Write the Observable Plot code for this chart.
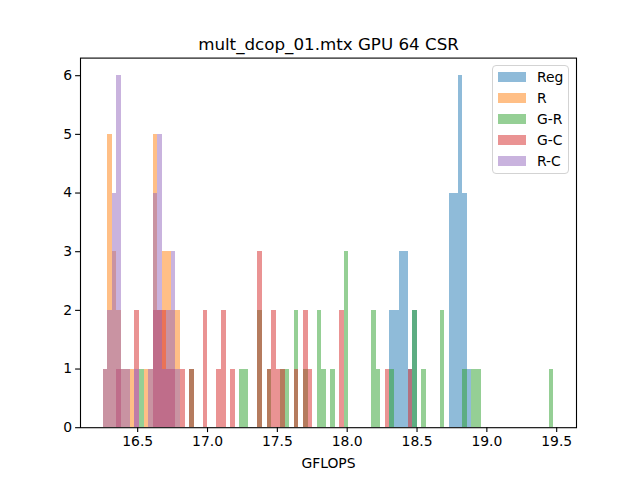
<!DOCTYPE html>
<html>
<head>
<meta charset="utf-8">
<script src="https://cdn.jsdelivr.net/npm/d3@7"></script>
<script src="https://cdn.jsdelivr.net/npm/@observablehq/plot@0.6"></script>
<style>
  body { margin: 0; background: #fff; }
  #wrap { position: relative; width: 640px; height: 480px; font-family: "DejaVu Sans", sans-serif; }
  .legend { position: absolute; left: 492px; top: 65px; width: 77px; height: 109px; box-sizing: border-box;
            border: 1px solid #d3d3d3; border-radius: 4px; background: rgba(255,255,255,0.8); }
  .row { position: absolute; left: 0; height: 20px; display: flex; align-items: center; }
  .sw { width: 28px; height: 10px; margin-left: 5px; margin-right: 11px; }
  .lab { font-size: 13.9px; color: #000; }
</style>
</head>
<body>
<div id="wrap"></div>
<script>
// ---- data ----
const title = "mult_dcop_01.mtx GPU 64 CSR";
const xLabel = "GFLOPS";
const seriesNames = ["Reg", "R", "G-R", "G-C", "R-C"];
const seriesColors = ["#1f77b4", "#ff7f0e", "#2ca02c", "#d62728", "#9467bd"];

// common histogram bin grid (GFLOPS)
const binStart = 16.252;
const binWidth = 0.03261;
const binCount = 99;

// bin index -> count, per series
const regBins   = [63, 64, 65, 66, 67, 68, 76, 77, 78, 79, 80];
const regCounts = [2, 2, 3, 3, 1, 2, 4, 4, 6, 4, 1];

const rBins   = [0, 1, 2, 3, 4, 5, 6, 9, 10, 11, 12, 13, 14, 15, 16];
const rCounts = [1, 5, 3, 2, 1, 1, 1, 1, 1, 5, 2, 3, 3, 2, 2];

const grBins   = [8, 19, 30, 31, 34, 36, 39, 40, 42, 44, 47, 48, 50, 53, 59, 60, 63, 68, 70, 74, 79, 81, 82, 98];
const grCounts = [1, 1, 1, 1, 2, 1, 1, 1, 2, 1, 2, 1, 1, 3, 2, 1, 1, 2, 1, 2, 1, 1, 1, 1];

const gcBins   = [3, 7, 11, 12, 13, 14, 15, 17, 19, 22, 25, 26, 28, 34, 36, 37, 38, 39, 42, 44, 45, 52, 62, 67];
const gcCounts = [1, 2, 2, 2, 2, 1, 1, 1, 1, 2, 1, 2, 1, 3, 1, 2, 1, 1, 1, 2, 1, 2, 1, 1];

const rcBins   = [0, 1, 2, 3, 4, 5, 7, 10, 11, 12, 13, 14, 15, 16];
const rcCounts = [1, 2, 4, 6, 1, 1, 1, 1, 4, 5, 1, 2, 3, 1];

const xTicks = [16.5, 17.0, 17.5, 18.0, 18.5, 19.0, 19.5];
const yTicks = [0, 1, 2, 3, 4, 5, 6];

// ---- build tables ----
const binSets = [[regBins, regCounts], [rBins, rCounts], [grBins, grCounts], [gcBins, gcCounts], [rcBins, rcCounts]];
const tables = binSets.map(([bins, counts], k) => bins.map((b, j) => ({
  series: seriesNames[k],
  x1: binStart + b * binWidth,
  x2: binStart + (b + 1) * binWidth,
  count: counts[j]
})));

const binEnd = binStart + binCount * binWidth;
const span = binEnd - binStart;
const xDomain = [binStart - 0.05 * span, binEnd + 0.05 * span];
const maxCount = d3.max(tables.flat(), d => d.count);

const chart = Plot.plot({
  width: 640,
  height: 480,
  marginLeft: 80,
  marginRight: 64,
  marginTop: 57.6,
  marginBottom: 52.8,
  style: { fontFamily: "DejaVu Sans, sans-serif", fontSize: "13.9px", color: "#000", background: "#fff" },
  x: { domain: xDomain },
  y: { domain: [0, maxCount * 1.05] },
  marks: [
    ...tables.map((t, k) => Plot.rect(t, {
      x1: "x1", x2: "x2", y1: () => 0, y2: "count",
      fill: seriesColors[k], fillOpacity: 0.5, shapeRendering: "crispEdges"
    })),
    Plot.frame({ stroke: "#000", strokeWidth: 1.1 }),
    Plot.axisX({ ticks: xTicks, tickFormat: d3.format(".1f"), tickSize: 4.9, tickPadding: 3.5, strokeWidth: 1.1, label: null }),
    Plot.axisY({ ticks: yTicks, tickFormat: d3.format("d"), tickSize: 4.9, tickPadding: 3.5, strokeWidth: 1.1, label: null }),
    Plot.text([title], { text: d => d, frameAnchor: "top", dy: -8, lineAnchor: "bottom", fontSize: 16.7 }),
    Plot.text([xLabel], { text: d => d, frameAnchor: "bottom", dy: 36, lineAnchor: "middle", fontSize: 13.9 })
  ]
});

const wrap = document.getElementById("wrap");
wrap.appendChild(chart);

// legend (matplotlib-style, upper right)
const legend = document.createElement("div");
legend.className = "legend";
seriesNames.forEach((name, k) => {
  const row = document.createElement("div");
  row.className = "row";
  row.style.top = (1 + k * 21) + "px";
  const sw = document.createElement("div");
  sw.className = "sw";
  sw.style.background = seriesColors[k];
  sw.style.opacity = 0.5;
  const lab = document.createElement("span");
  lab.className = "lab";
  lab.textContent = name;
  row.appendChild(sw);
  row.appendChild(lab);
  legend.appendChild(row);
});
wrap.appendChild(legend);
</script>
</body>
</html>
